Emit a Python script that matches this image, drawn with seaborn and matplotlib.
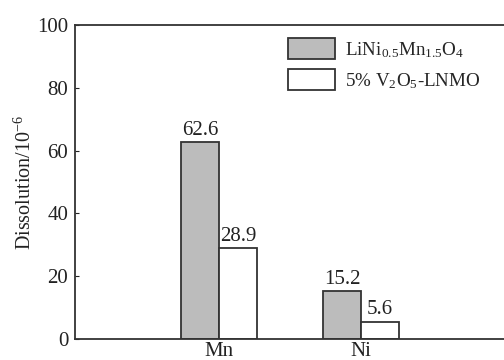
import matplotlib
matplotlib.use("Agg")
import matplotlib.pyplot as plt
import seaborn as sns
import pandas as pd

# Ion dissolution data
elements = ["Mn", "Ni"]
samples = ["LiNi$_{0.5}$Mn$_{1.5}$O$_4$", "5% V$_2$O$_5$-LNMO"]
pristine = [62.6, 15.2]
coated = [28.9, 5.6]
y_ticks = [0, 20, 40, 60, 80, 100]

df = pd.DataFrame({
    "element": elements * 2,
    "sample": [samples[0]] * 2 + [samples[1]] * 2,
    "value": pristine + coated,
})

sns.set_style("ticks")
plt.rcParams["font.family"] = ["Liberation Serif", "DejaVu Serif"]
plt.rcParams["mathtext.fontset"] = "custom"
plt.rcParams["mathtext.rm"] = "Liberation Serif"
plt.rcParams["mathtext.it"] = "Liberation Serif:italic"

fig = plt.figure(figsize=(5.04, 3.6), dpi=100)
ax = fig.add_axes([0.149, 0.058, 0.851, 0.873])

sns.barplot(data=df, x="element", y="value", hue="sample", order=elements,
            hue_order=samples, palette=["#bcbcbc", "#ffffff"], width=0.535,
            edgecolor="#333333", linewidth=1.3, saturation=1, ax=ax)

for cont in ax.containers:
    ax.bar_label(cont, fmt="%.1f", padding=2, fontsize=15, color="#222222")

ax.set_ylim(0, 100)
ax.set_yticks(y_ticks)
ax.set_xlim(-1.014, 2.007)
ax.set_xlabel("")
ax.set_ylabel("Dissolution/10$^{-6}$", fontsize=14.5, color="#222222", labelpad=1)
ax.tick_params(axis="y", direction="in", length=3, labelsize=15, colors="#222222", pad=5)
ax.tick_params(axis="x", length=0, labelsize=15, colors="#222222", pad=2)

for side in ["left", "bottom", "top"]:
    ax.spines[side].set_color("#333333")
    ax.spines[side].set_linewidth(1.3)
ax.spines["right"].set_visible(False)

leg = ax.legend(loc="upper left", bbox_to_anchor=(0.478, 0.982), frameon=False,
                fontsize=13.7, handlelength=2.5, handleheight=1.3,
                handletextpad=0.5, labelspacing=0.5, borderaxespad=0)

fig.savefig("out.png", dpi=100)
